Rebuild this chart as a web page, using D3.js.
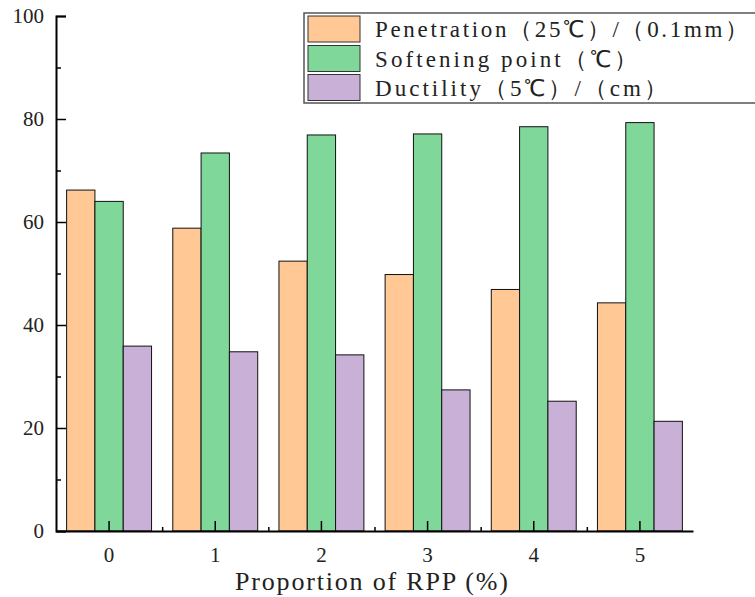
<!DOCTYPE html>
<html><head><meta charset="utf-8">
<script src="https://cdn.jsdelivr.net/npm/d3@7"></script>
<style>body{margin:0;background:#fff}svg{display:block}</style>
</head><body>
<script>
const categories = ["0","1","2","3","4","5"];
const seriesNames = ["Penetration（25℃）/（0.1mm）","Softening point（℃）","Ductility（5℃）/（cm）"];
const penetration = [66.2, 58.8, 52.4, 49.8, 46.9, 44.3];
const softening = [64.0, 73.4, 76.9, 77.1, 78.5, 79.3];
const ductility = [35.9, 34.8, 34.2, 27.4, 25.2, 21.3];
const yTicks = [0,20,40,60,80,100];
const colors = ["#FFC894","#7FD899","#C8B0D6"];
const xTitle = "Proportion of RPP (%)";

const W=755,H=597;
const svg=d3.select("body").append("svg").attr("width",W).attr("height",H);
const x0=d3.scaleBand().domain(categories).range([56,693]).paddingInner(0.2).paddingOuter(0.1);
const x1=d3.scaleBand().domain([0,1,2]).range([0,x0.bandwidth()]);
const y=d3.scaleLinear().domain([0,100]).range([531,16]);
const series=[penetration,softening,ductility];

const g=svg.append("g");
categories.forEach((c,i)=>{
  series.forEach((s,k)=>{
    g.append("rect").attr("x",x0(c)+x1(k)).attr("y",y(s[i]))
     .attr("width",x1.bandwidth()).attr("height",y(0)-y(s[i]))
     .attr("fill",colors[k]).attr("stroke","#111").attr("stroke-width",1);
  });
});

// y axis
const ya=svg.append("g").attr("transform","translate(56,0)").attr("font-family","Liberation Serif")
 .call(d3.axisLeft(y).tickValues(yTicks).tickSize(-10).tickPadding(12).tickFormat(d3.format("d")));
ya.attr("font-family","Liberation Serif");
ya.selectAll(".tick text").style("font-family","'Liberation Serif', serif").attr("font-size",21).attr("fill","#222");
const yminor=svg.append("g").attr("transform","translate(56,0)")
 .call(d3.axisLeft(y).tickValues([10,30,50,70,90]).tickSize(-5).tickFormat(""));
yminor.select(".domain").remove();
// x axis
const xa=svg.append("g").attr("transform","translate(0,531)")
 .call(d3.axisBottom(x0).tickSize(-10).tickSizeOuter(0).tickPadding(16));
xa.selectAll(".tick text").style("font-family","'Liberation Serif', serif").attr("font-size",21).attr("fill","#222");
const minorX = categories.slice(0,-1).map((c,i)=>(x0(c)+x0.bandwidth()/2+x0(categories[i+1])+x0.bandwidth()/2)/2);
const xm=svg.append("g").attr("transform","translate(0,531)")
 .call(d3.axisBottom(d3.scaleLinear().domain([0,W]).range([0,W])).tickValues(minorX).tickSize(-4).tickFormat(""));
xm.select(".domain").remove();
svg.selectAll(".domain").attr("stroke","#000").attr("stroke-width",2);
svg.selectAll(".tick line").attr("stroke","#000").attr("stroke-width",1.5);

svg.append("text").attr("x",235).attr("y",590)
 .style("font-family","'Liberation Serif', serif").attr("font-size",26).attr("fill","#222")
 .attr("textLength",273).attr("lengthAdjust","spacing").text(xTitle);

// legend
const lg=svg.append("g");
lg.append("rect").attr("x",304).attr("y",13).attr("width",470).attr("height",90)
 .attr("fill","#fff").attr("stroke","#555").attr("stroke-width",1.5);
const rowY=[16,45.5,74.5];
const textW=[373,262,292];
seriesNames.forEach((n,k)=>{
  lg.append("rect").attr("x",308).attr("y",rowY[k]).attr("width",52).attr("height",26)
   .attr("fill",colors[k]).attr("stroke","#333").attr("stroke-width",1);
  lg.append("text").attr("x",375).attr("y",rowY[k]+21).style("font-family","'Liberation Serif', serif")
   .attr("font-size",23).attr("fill","#222").attr("textLength",textW[k]).attr("lengthAdjust","spacing").text(n);
});
</script>
</body></html>
